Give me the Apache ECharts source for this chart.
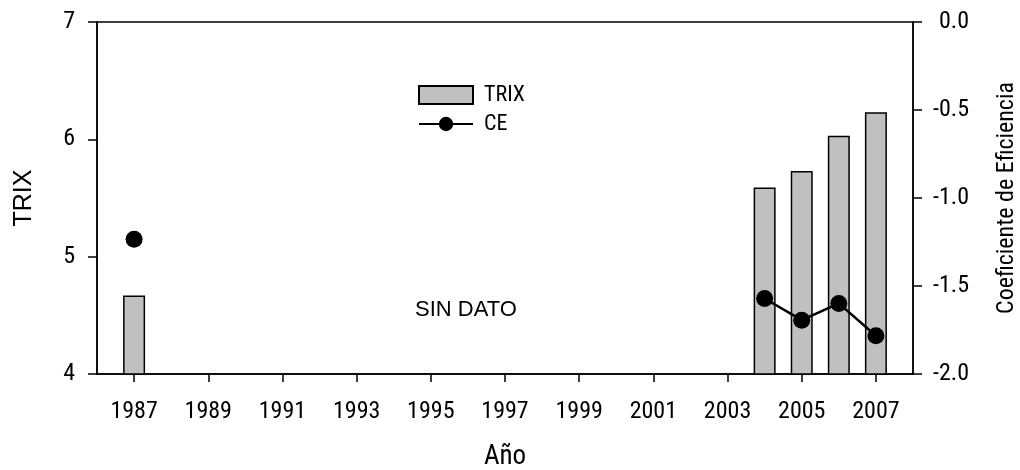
<!DOCTYPE html>
<html><head><meta charset="utf-8">
<script src="https://cdn.jsdelivr.net/npm/echarts@6/dist/echarts.min.js"></script>
<style>html,body{margin:0;padding:0;background:#fff}#c{width:1020px;height:470px}</style>
</head><body><div id="c"></div>
<script>
const trixYears = [1987, 2004, 2005, 2006, 2007];
const trixValues = [4.67, 5.59, 5.73, 6.03, 6.23];
const ceYears = [1987, 2004, 2005, 2006, 2007];
const ceValues = [-1.235, -1.571, -1.694, -1.599, -1.783];
const xTickYears = [1987, 1989, 1991, 1993, 1995, 1997, 1999, 2001, 2003, 2005, 2007];
const gapYear = 1995; // missing-data gap, breaks the CE line

const NARROW = '"Roboto Condensed", "Liberation Sans", sans-serif';
const SANS = '"Liberation Sans", Arial, sans-serif';

const ceData = [[ceYears[0], ceValues[0]], [gapYear, '-']];
for (let i = 1; i < ceYears.length; i++) ceData.push([ceYears[i], ceValues[i]]);

const chart = echarts.init(document.getElementById('c'));
chart.setOption({
  animation: false,
  grid: { left: 97, right: 107, top: 22, bottom: 96, outerBoundsMode: 'none', containLabel: false, show: true, borderColor: '#000', borderWidth: 1.5, backgroundColor: 'transparent' },
  legend: {
    left: 413, top: 79, orient: 'vertical', itemWidth: 54, itemHeight: 18, itemGap: 7,
    textStyle: { fontFamily: NARROW, fontSize: 22, lineHeight: 18, color: '#000', padding: [0, 0, 0, 6] },
    data: [{ name: 'TRIX', icon: 'rect' }, { name: 'CE' }]
  },
  xAxis: {
    type: 'value', min: 1986, max: 2008,
    axisLine: { onZero: false, lineStyle: { color: '#000', width: 1.5 } },
    axisTick: { show: true, length: 8, lineStyle: { color: '#000', width: 1.5 }, customValues: xTickYears },
    axisLabel: { customValues: xTickYears, formatter: v => String(v), fontFamily: NARROW, fontSize: 24, color: '#000', margin: 26 },
    splitLine: { show: false },
    name: 'Año', nameLocation: 'middle', nameGap: 70,
    nameTextStyle: { fontFamily: NARROW, fontSize: 27, color: '#000' }
  },
  yAxis: [
    {
      type: 'value', min: 4, max: 7, interval: 1, position: 'left',
      axisLine: { show: true, onZero: false, lineStyle: { color: '#000', width: 1.5 } },
      axisTick: { show: true, length: 9, lineStyle: { color: '#000', width: 1.5 } },
      axisLabel: { fontFamily: NARROW, fontSize: 24, color: '#000', margin: 22 },
      splitLine: { show: false },
      name: 'TRIX', nameLocation: 'middle', nameGap: 60, nameRotate: 90,
      nameTextStyle: { fontFamily: SANS, fontSize: 25, color: '#000' }
    },
    {
      type: 'value', min: -2, max: 0, interval: 0.5, position: 'right',
      axisLine: { show: true, onZero: false, lineStyle: { color: '#000', width: 1.5 } },
      axisTick: { show: true, length: 9, lineStyle: { color: '#000', width: 1.5 } },
      axisLabel: { fontFamily: NARROW, fontSize: 24, color: '#000', margin: 56, align: 'right', formatter: v => v.toFixed(1) },
      splitLine: { show: false },
      name: 'Coeficiente de Eficiencia', nameLocation: 'middle', nameGap: 82, nameRotate: 90,
      nameTextStyle: { fontFamily: NARROW, fontSize: 24, color: '#000' }
    }
  ],
  series: [
    {
      name: 'TRIX', type: 'bar', yAxisIndex: 0, barWidth: 22,
      data: trixYears.map((y, i) => [y, trixValues[i]]),
      itemStyle: { color: '#c0c0c0', borderColor: '#000', borderWidth: 1.5 }
    },
    {
      name: 'CE', type: 'line', yAxisIndex: 1, symbol: 'circle', symbolSize: 17,
      data: ceData, connectNulls: false,
      lineStyle: { color: '#000', width: 2.5 },
      itemStyle: { color: '#000' }
    }
  ],
  graphic: [
    { type: 'text', left: 415, top: 299, style: { text: 'SIN DATO', font: '22px "Liberation Sans", Arial, sans-serif', fill: '#000' } }
  ]
});
</script></body></html>
